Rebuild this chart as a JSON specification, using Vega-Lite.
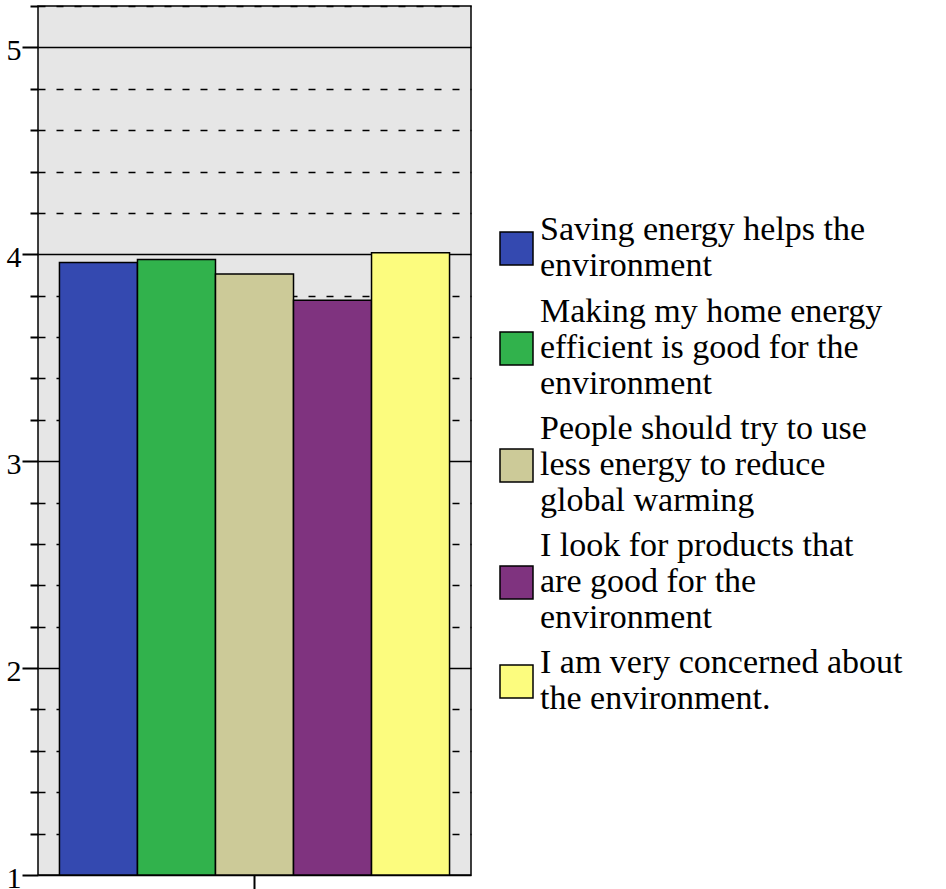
{
  "$schema": "https://vega.github.io/schema/vega-lite/v6.json",
  "autosize": {"type": "none"},
  "width": 433,
  "height": 869,
  "padding": {"left": 38, "top": 6, "right": 475, "bottom": 14},
  "background": "white",
  "config": {
    "view": {"fill": "#e6e6e6", "stroke": "black", "strokeWidth": 1.5},
    "font": "Liberation Serif"
  },
  "data": {
    "values": [
      {"group": "", "item": "Saving energy helps the environment", "value": 3.96},
      {"group": "", "item": "Making my home energy efficient is good for the environment", "value": 3.975},
      {"group": "", "item": "People should try to use less energy to reduce global warming", "value": 3.905},
      {"group": "", "item": "I look for products that are good for the environment", "value": 3.778},
      {"group": "", "item": "I am very concerned about the environment.", "value": 4.008}
    ]
  },
  "mark": {"type": "bar", "stroke": "black", "strokeWidth": 1.5},
  "encoding": {
    "x": {
      "field": "group",
      "type": "nominal",
      "scale": {"paddingInner": 0, "paddingOuter": 0},
      "axis": {"title": null, "labels": false, "domain": false, "tickSize": 14, "tickWidth": 2, "tickColor": "black"}
    },
    "xOffset": {
      "field": "item",
      "type": "nominal",
      "sort": null,
      "scale": {"paddingInner": 0, "paddingOuter": 0.275}
    },
    "y": {
      "field": "value",
      "type": "quantitative",
      "scale": {"domain": [1, 5.2], "nice": false, "zero": false},
      "axis": {
        "title": null,
        "domain": false,
        "values": [1, 1.2, 1.4, 1.6, 1.8, 2, 2.2, 2.4, 2.6, 2.8, 3, 3.2, 3.4, 3.6, 3.8, 4, 4.2, 4.4, 4.6, 4.8, 5, 5.2],
        "labelExpr": "datum.value % 1 === 0 ? format(datum.value, 'd') : ''",
        "labelFont": "Liberation Serif",
        "labelFontSize": 30,
        "labelColor": "black",
        "labelPadding": 1,
        "labelOffset": 3,
        "labelOverlap": false,
        "labelFlush": false,
        "tickColor": "black",
        "tickWidth": 2,
        "tickSize": {"condition": {"test": "datum.value % 1 === 0", "value": 16}, "value": 8},
        "grid": true,
        "gridColor": "black",
        "gridOpacity": 1,
        "gridWidth": 1.5,
        "gridDash": {"condition": {"test": "datum.value % 1 === 0", "value": []}, "value": [7, 11]}
      }
    },
    "y2": {"datum": 1},
    "color": {
      "field": "item",
      "type": "nominal",
      "sort": null,
      "scale": {"range": ["#3449b0", "#31b24c", "#ccca98", "#7f337f", "#fcfc7e"]},
      "legend": {
        "title": null,
        "orient": "none",
        "legendX": 461,
        "legendY": 225,
        "padding": 0,
        "symbolType": "square",
        "symbolSize": 1089,
        "symbolStrokeColor": "black",
        "symbolStrokeWidth": 1.5,
        "symbolOpacity": 1,
        "labelFont": "Liberation Serif",
        "labelFontSize": 34,
        "labelColor": "black",
        "labelLimit": 0,
        "labelOffset": 6,
        "labelBaseline": "middle",
        "labelLineHeight": 36.5,
        "rowPadding": 11,
        "labelExpr": "{'Saving energy helps the environment': ['Saving energy helps the', 'environment'], 'Making my home energy efficient is good for the environment': ['Making my home energy', 'efficient is good for the', 'environment'], 'People should try to use less energy to reduce global warming': ['People should try to use', 'less energy to reduce', 'global warming'], 'I look for products that are good for the environment': ['I look for products that', 'are good for the', 'environment'], 'I am very concerned about the environment.': ['I am very concerned about', 'the environment.']}[datum.label]",
        "encode": {
          "labels": {
            "update": {
              "dy": {"signal": "indexof(['Making my home energy efficient is good for the environment', 'People should try to use less energy to reduce global warming', 'I look for products that are good for the environment'], datum.value) >= 0 ? -36.5 : -18.25"}
            }
          }
        }
      }
    }
  }
}
